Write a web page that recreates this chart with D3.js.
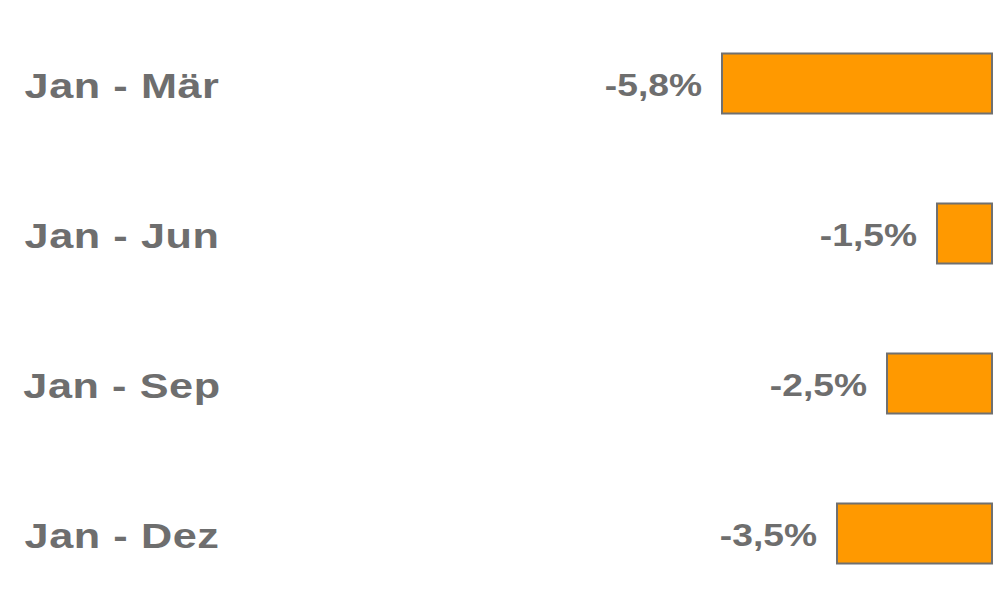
<!DOCTYPE html>
<html>
<head>
<meta charset="utf-8">
<script src="https://cdn.jsdelivr.net/npm/d3@7"></script>
<style>
  body { margin: 0; background: #fff; }
  svg { display: block; }
  text { font-family: "Liberation Sans", Arial, sans-serif; font-weight: bold; fill: #6e6e6e; }
</style>
</head>
<body>
<div id="chart"></div>
<script>
const categories = ["Jan - Mär", "Jan - Jun", "Jan - Sep", "Jan - Dez"];
const values = [-5.8, -1.5, -2.5, -3.5];
const valueLabels = ["-5,8%", "-1,5%", "-2,5%", "-3,5%"];

const width = 993, height = 606;

const svg = d3.select("#chart")
  .append("svg")
  .attr("width", width)
  .attr("height", height);

// axis max sits at -0.4, so bars get cut off at the plot's right edge
const x = d3.scaleLinear()
  .domain([-5.8, -0.4])
  .range([722, 992]);

const y = d3.scaleBand()
  .domain(categories)
  .range([8.5, 608.5])
  .paddingInner(0.6)
  .paddingOuter(0.3);

const rows = categories.map((c, i) => ({ cat: c, val: values[i], label: valueLabels[i] }));

svg.selectAll("rect.bar")
  .data(rows)
  .join("rect")
  .attr("class", "bar")
  .attr("x", d => x(d.val))
  .attr("y", d => y(d.cat))
  .attr("width", d => x.range()[1] - x(d.val))
  .attr("height", y.bandwidth())
  .attr("fill", "#ff9900")
  .attr("stroke", "#707070")
  .attr("stroke-width", 2);

// the source text is a bit stretched sideways
svg.selectAll("text.cat")
  .data(rows)
  .join("text")
  .attr("class", "cat")
  .attr("transform", d => `translate(122,${y(d.cat) + y.bandwidth() / 2 + 14}) scale(1.2,1)`)
  .attr("text-anchor", "middle")
  .style("font-size", "36px")
  .style("letter-spacing", "0.5px")
  .text(d => d.cat);

svg.selectAll("text.val")
  .data(rows)
  .join("text")
  .attr("class", "val")
  .attr("transform", d => `translate(${x(d.val) - 20},${y(d.cat) + y.bandwidth() / 2 + 12}) scale(1.2,1)`)
  .attr("text-anchor", "end")
  .style("font-size", "31px")
  .text(d => d.label);
</script>
</body>
</html>
